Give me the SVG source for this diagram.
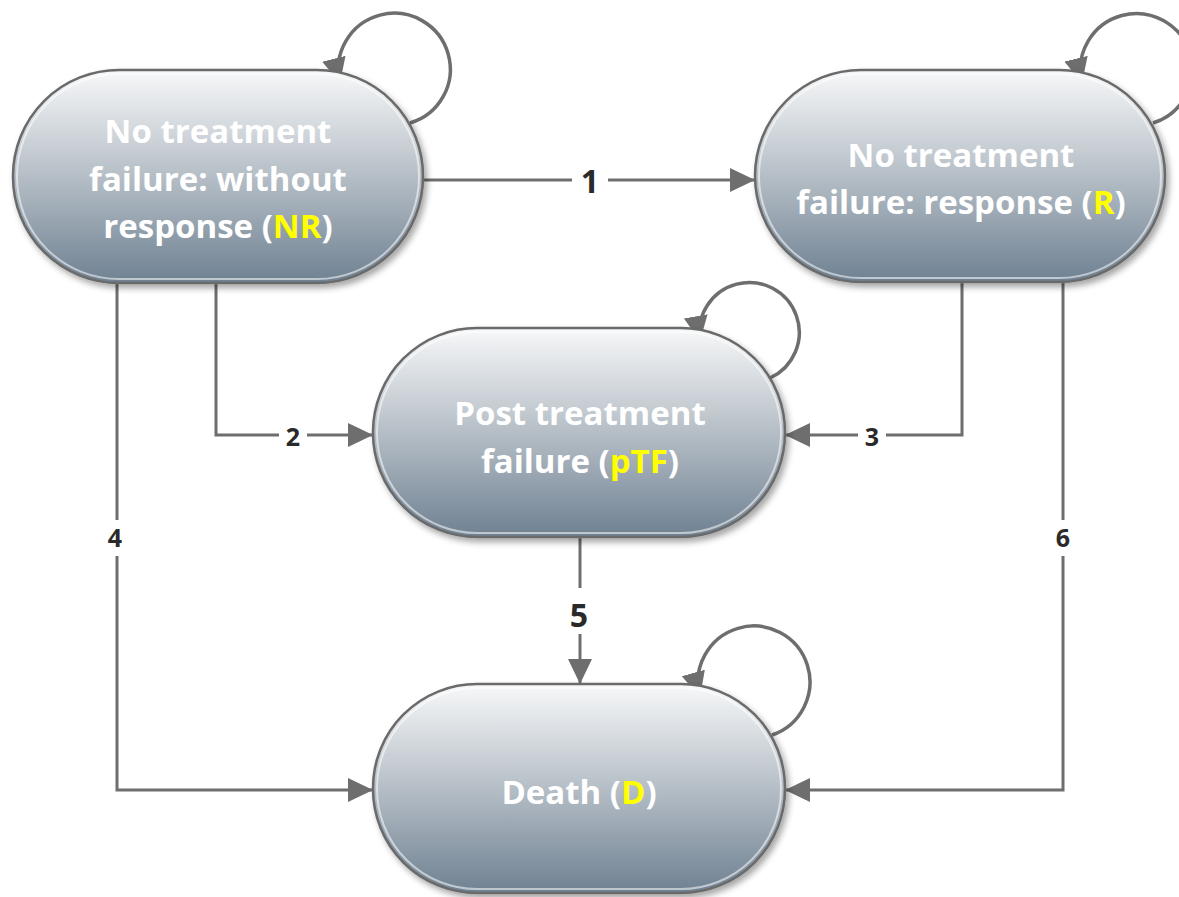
<svg xmlns="http://www.w3.org/2000/svg" width="1179" height="897" viewBox="0 0 1179 897">
<style>
.node{fill:url(#g);stroke:#6a6a6a;stroke-width:2.5;filter:url(#sh)}
.inner{fill:none;stroke:#ffffff;stroke-opacity:0.55;stroke-width:2}
.nt{font-family:"Open Sans","Noto Sans",sans-serif;font-weight:bold;font-size:33px;fill:#ffffff;text-anchor:middle}
.y{fill:#ffff00}
.edge{fill:none;stroke:#6e6e6e;stroke-width:3}
.loop{fill:none;stroke:#6e6e6e;stroke-width:3.5}
.lb{font-family:"Open Sans","Noto Sans",sans-serif;font-weight:bold;fill:#2a2a2a;text-anchor:middle}
</style>
<defs>
<linearGradient id="g" x1="0" y1="0" x2="0" y2="1">
<stop offset="0" stop-color="#f7f8f9"/>
<stop offset="0.45" stop-color="#bcc4cb"/>
<stop offset="1" stop-color="#6f8192"/>
</linearGradient>
<filter id="sh" x="-10%" y="-10%" width="125%" height="130%">
<feDropShadow dx="3" dy="4" stdDeviation="3" flood-color="#000" flood-opacity="0.35"/>
</filter>
<marker id="ah" markerUnits="userSpaceOnUse" markerWidth="28" markerHeight="26" refX="25" refY="12" orient="auto">
<path d="M0,0 L25,12 L0,24 Z" fill="#6e6e6e"/>
</marker>
</defs>
<g id="connectors">
<path class="edge" d="M423,180 L755,180" marker-end="url(#ah)"/>
<path class="edge" d="M216,283 L216,435 L373,435" marker-end="url(#ah)"/>
<path class="edge" d="M962,282 L962,435 L785,435" marker-end="url(#ah)"/>
<path class="edge" d="M117,283 L117,790 L373,790" marker-end="url(#ah)"/>
<path class="edge" d="M580,537 L580,684" marker-end="url(#ah)"/>
<path class="edge" d="M1063,282 L1063,790 L785,790" marker-end="url(#ah)"/>
<path class="loop" d="M410,123 A56,56 0 1 0 340,83" marker-end="url(#ah)"/>
<path class="loop" d="M1153,123 A56,56 0 1 0 1082,83" marker-end="url(#ah)"/>
<path class="loop" d="M770,378 A50,50 0 1 0 700,341" marker-end="url(#ah)"/>
<path class="loop" d="M772,735 A56,56 0 1 0 700,697" marker-end="url(#ah)"/>
<rect x="572" y="160" width="36" height="40" fill="#ffffff"/>
<text class="lb" x="590" y="193" font-size="32">1</text>
<rect x="279" y="421" width="28" height="30" fill="#ffffff"/>
<text class="lb" x="293" y="446" font-size="25">2</text>
<rect x="858" y="421" width="28" height="30" fill="#ffffff"/>
<text class="lb" x="872" y="446" font-size="25">3</text>
<rect x="102" y="520" width="30" height="36" fill="#ffffff"/>
<text class="lb" x="115" y="547" font-size="25">4</text>
<rect x="1048" y="520" width="30" height="36" fill="#ffffff"/>
<text class="lb" x="1063" y="547" font-size="25">6</text>
<rect x="561" y="588" width="36" height="46" fill="#ffffff"/>
<text class="lb" x="579" y="627" font-size="32">5</text>
</g>
<g id="node-NR">
<rect class="node" x="13" y="70" width="410" height="213" rx="106" ry="106"/>
<rect class="inner" x="17" y="74" width="402" height="205" rx="102" ry="102"/>
<text class="nt" x="218" y="143">No treatment</text>
<text class="nt" x="218" y="191">failure: without</text>
<text class="nt" x="218" y="238">response (<tspan class="y">NR</tspan>)</text>
</g>
<g id="node-R">
<rect class="node" x="755" y="70" width="410" height="212" rx="106" ry="106"/>
<rect class="inner" x="759" y="74" width="402" height="204" rx="102" ry="102"/>
<text class="nt" x="961" y="167">No treatment</text>
<text class="nt" x="961" y="214">failure: response (<tspan class="y">R</tspan>)</text>
</g>
<g id="node-pTF">
<rect class="node" x="373" y="328" width="412" height="209" rx="104" ry="104"/>
<rect class="inner" x="377" y="332" width="404" height="201" rx="100" ry="100"/>
<text class="nt" x="580" y="425">Post treatment</text>
<text class="nt" x="580" y="473">failure (<tspan class="y">pTF</tspan>)</text>
</g>
<g id="node-D">
<rect class="node" x="373" y="684" width="412" height="209" rx="104" ry="104"/>
<rect class="inner" x="377" y="688" width="404" height="201" rx="100" ry="100"/>
<text class="nt" x="579" y="804">Death (<tspan class="y">D</tspan>)</text>
</g>
</svg>
